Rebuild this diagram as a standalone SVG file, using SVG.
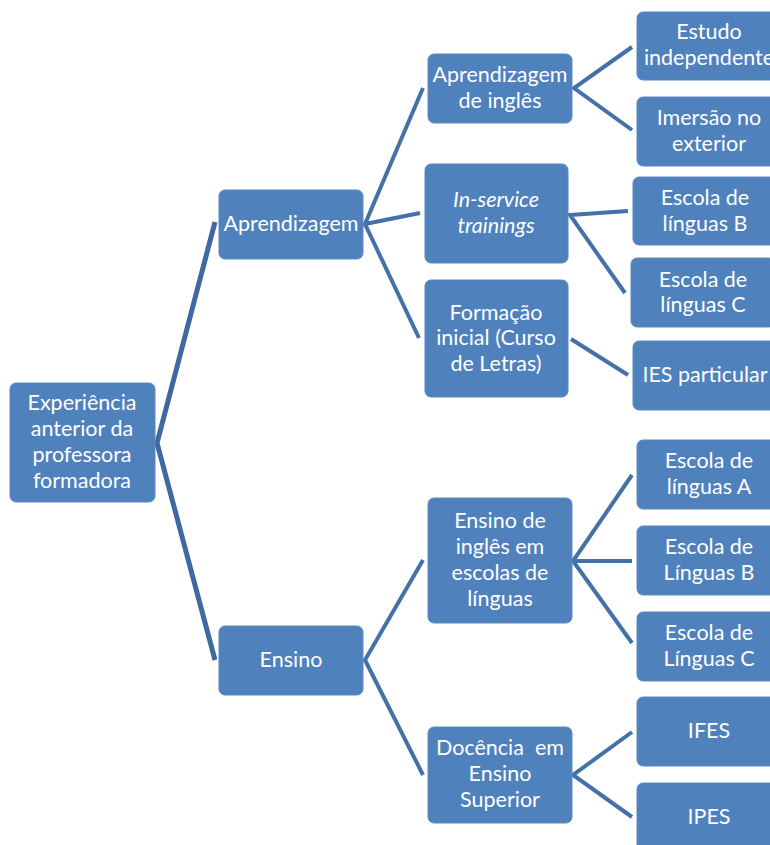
<svg xmlns="http://www.w3.org/2000/svg" width="770" height="845" viewBox="0 0 770 845">
<style>
.b{fill:#4F81BD;stroke:#5B8AC3;stroke-width:1}
.t{font-family:Lato,"Open Sans","Liberation Sans",sans-serif;font-size:21.5px;fill:#fff;text-anchor:middle}
.i{font-style:italic}
.c{fill:none;stroke:#4371A8;stroke-width:4;stroke-linejoin:miter}
.r{stroke:#3F69A0;stroke-width:5}
</style>
<rect width="770" height="845" fill="#fff"/>
<g id="connectors">
<polyline class="c r" points="215,222 157,443 215,660"/>
<polyline class="c" points="423,88 365,224 420,213"/>
<polyline class="c" points="365,224 419,338"/>
<polyline class="c" points="632,47 574,88 632,130"/>
<polyline class="c" points="628,211 570,215 625,293"/>
<line class="c" x1="571" y1="339" x2="628" y2="375"/>
<polyline class="c" points="423,560 365,660 423,775"/>
<polyline class="c" points="632,475 573,561 632,643"/>
<line class="c" x1="573" y1="561" x2="632" y2="561"/>
<polyline class="c" points="632,732 573,775 632,817"/>
</g>
<g id="root"><rect class="b" x="10" y="383" width="145" height="119" rx="6"/>
<text class="t" x="82" y="410">Experiência</text><text class="t" x="82" y="436">anterior da</text><text class="t" x="82" y="462">professora</text><text class="t" x="82" y="488">formadora</text></g>
<g id="aprendizagem"><rect class="b" x="219" y="190" width="144" height="69" rx="6"/>
<text class="t" x="291" y="231">Aprendizagem</text></g>
<g id="ensino"><rect class="b" x="219" y="626" width="144" height="69" rx="6"/>
<text class="t" x="291" y="667">Ensino</text></g>
<g id="apr-ingles"><rect class="b" x="428" y="54" width="144" height="69" rx="6"/>
<text class="t" x="500" y="82">Aprendizagem</text><text class="t" x="500" y="108">de inglês</text></g>
<g id="inservice"><rect class="b" x="425" y="164" width="143" height="99" rx="6"/>
<text class="t i" x="496" y="207">In-service</text><text class="t i" x="496" y="233">trainings</text></g>
<g id="formacao"><rect class="b" x="425" y="280" width="143" height="117" rx="6"/>
<text class="t" x="496" y="320">Formação</text><text class="t" x="496" y="345">inicial (Curso</text><text class="t" x="496" y="371">de Letras)</text></g>
<g id="ensino-ingles"><rect class="b" x="428" y="498" width="144" height="125" rx="6"/>
<text class="t" x="500" y="528">Ensino de</text><text class="t" x="500" y="554">inglês em</text><text class="t" x="500" y="580">escolas de</text><text class="t" x="500" y="606">línguas</text></g>
<g id="docencia"><rect class="b" x="428" y="727" width="144" height="96" rx="6"/>
<text class="t" x="500" y="755" xml:space="preserve">Docência  em</text><text class="t" x="500" y="781">Ensino</text><text class="t" x="500" y="807">Superior</text></g>
<g id="estudo"><rect class="b" x="637" y="12" width="144" height="68" rx="6"/>
<text class="t" x="709" y="39">Estudo</text><text class="t" x="709" y="65">independente</text></g>
<g id="imersao"><rect class="b" x="637" y="97" width="144" height="69" rx="6"/>
<text class="t" x="709" y="125">Imersão no</text><text class="t" x="709" y="151">exterior</text></g>
<g id="escola-b1"><rect class="b" x="633" y="177" width="144" height="68" rx="6"/>
<text class="t" x="705" y="205">Escola de</text><text class="t" x="705" y="231">línguas B</text></g>
<g id="escola-c1"><rect class="b" x="631" y="258" width="144" height="69" rx="6"/>
<text class="t" x="703" y="287">Escola de</text><text class="t" x="703" y="312">línguas C</text></g>
<g id="ies"><rect class="b" x="633" y="341" width="144" height="69" rx="6"/>
<text class="t" x="705" y="382">IES particular</text></g>
<g id="escola-a"><rect class="b" x="637" y="440" width="144" height="69" rx="6"/>
<text class="t" x="709" y="468">Escola de</text><text class="t" x="709" y="494">línguas A</text></g>
<g id="escola-b2"><rect class="b" x="637" y="526" width="144" height="69" rx="6"/>
<text class="t" x="709" y="554">Escola de</text><text class="t" x="709" y="580">Línguas B</text></g>
<g id="escola-c2"><rect class="b" x="637" y="612" width="144" height="69" rx="6"/>
<text class="t" x="709" y="640">Escola de</text><text class="t" x="709" y="666">Línguas C</text></g>
<g id="ifes"><rect class="b" x="637" y="697" width="144" height="69" rx="6"/>
<text class="t" x="709" y="738">IFES</text></g>
<g id="ipes"><rect class="b" x="637" y="783" width="144" height="69" rx="6"/>
<text class="t" x="709" y="824">IPES</text></g>
</svg>
